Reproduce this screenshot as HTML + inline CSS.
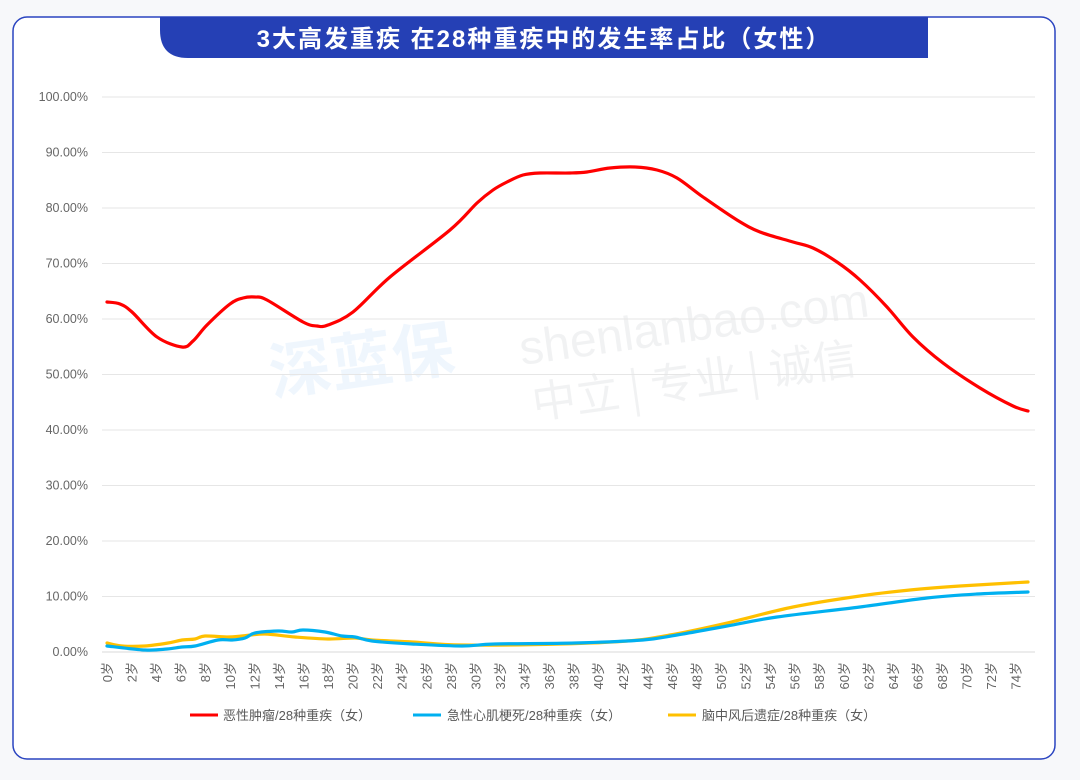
<!DOCTYPE html>
<html><head><meta charset="utf-8"><style>
html,body{margin:0;padding:0;background:#f7f8fa;}
body{width:1080px;height:780px;overflow:hidden;font-family:"Liberation Sans","Noto Sans CJK SC",sans-serif;}
</style></head><body>
<svg width="1080" height="780" xmlns="http://www.w3.org/2000/svg" style="position:absolute;left:0;top:0">
<rect x="13" y="17" width="1042" height="742" rx="14" fill="#fff" stroke="#2a44c0" stroke-width="1.5"/>
<path d="M160,17 H928 V58 H188 Q160,58 160,30 Z" fill="#2540b5"/>
<text x="544" y="47" text-anchor="middle" fill="#fff" font-size="24" font-weight="bold" letter-spacing="2" font-family="Liberation Sans,Noto Sans CJK SC,sans-serif">3大高发重疾 在28种重疾中的发生率占比（女性）</text>
<g opacity="0.07" transform="rotate(-8 380 370)">
<text x="270" y="380" font-size="62" font-weight="bold" fill="#2a8ff0" font-family="Noto Sans CJK SC,sans-serif">深蓝保</text>
</g>
<g fill="#9aa0a8" opacity="0.13" transform="rotate(-8 700 340)">
<text x="520" y="340" font-size="48" font-family="Liberation Sans,sans-serif">shenlanbao.com</text>
<text x="525" y="395" font-size="44" font-family="Noto Sans CJK SC,sans-serif">中立 | 专业 | 诚信</text>
</g>
<g stroke="#e6e6e6" stroke-width="1">
<line x1="102" x2="1035" y1="97" y2="97"/><line x1="102" x2="1035" y1="152.5" y2="152.5"/>
<line x1="102" x2="1035" y1="208" y2="208"/><line x1="102" x2="1035" y1="263.5" y2="263.5"/>
<line x1="102" x2="1035" y1="319" y2="319"/><line x1="102" x2="1035" y1="374.5" y2="374.5"/>
<line x1="102" x2="1035" y1="430" y2="430"/><line x1="102" x2="1035" y1="485.5" y2="485.5"/>
<line x1="102" x2="1035" y1="541" y2="541"/><line x1="102" x2="1035" y1="596.5" y2="596.5"/>
<line x1="102" x2="1035" y1="652" y2="652" stroke="#d9d9d9"/>
</g>
<g fill="#666" font-size="12.5" text-anchor="end" font-family="Liberation Sans,sans-serif">
<text x="88" y="101">100.00%</text><text x="88" y="156.5">90.00%</text><text x="88" y="212">80.00%</text>
<text x="88" y="267.5">70.00%</text><text x="88" y="323">60.00%</text><text x="88" y="378.5">50.00%</text>
<text x="88" y="434">40.00%</text><text x="88" y="489.5">30.00%</text><text x="88" y="545">20.00%</text>
<text x="88" y="600.5">10.00%</text><text x="88" y="656">0.00%</text>
</g>
<g id="xl" fill="#666" font-size="13" text-anchor="end" font-family="Liberation Sans,Noto Sans CJK SC,sans-serif"></g>
<g fill="none" stroke-width="3.2" stroke-linejoin="round" stroke-linecap="round">
<path id="py" stroke="#ffc000"/>
<path id="pb" stroke="#00b0f0"/>
<path id="pr" stroke="#ff0000"/>
</g>
<g font-size="13" fill="#595959" font-family="Liberation Sans,Noto Sans CJK SC,sans-serif">
<line x1="190" x2="218" y1="715" y2="715" stroke="#ff0000" stroke-width="3"/><text x="223" y="720">恶性肿瘤/28种重疾（女）</text>
<line x1="413" x2="441" y1="715" y2="715" stroke="#00b0f0" stroke-width="3"/><text x="447" y="720">急性心肌梗死/28种重疾（女）</text>
<line x1="668" x2="696" y1="715" y2="715" stroke="#ffc000" stroke-width="3"/><text x="702" y="720">脑中风后遗症/28种重疾（女）</text>
</g>
</svg>
<script>
var g=document.getElementById('xl'),s='';
for(var a=0;a<=74;a+=2){var x=107+a*12.28+5;s+='<text transform="translate('+x.toFixed(1)+',662) rotate(-90)">'+a+'岁</text>';}
g.innerHTML=s;
function sm(str){var p=str.trim().split(/\s+/).map(function(t){return t.split(',').map(Number)});
var d='M'+p[0][0]+','+p[0][1];
for(var i=0;i<p.length-1;i++){var p0=p[i-1]||p[i],p1=p[i],p2=p[i+1],p3=p[i+2]||p2;
d+=' C'+(p1[0]+(p2[0]-p0[0])/6).toFixed(1)+','+(p1[1]+(p2[1]-p0[1])/6).toFixed(1)+' '+(p2[0]-(p3[0]-p1[0])/6).toFixed(1)+','+(p2[1]-(p3[1]-p1[1])/6).toFixed(1)+' '+p2[0]+','+p2[1];}
return d;}
document.getElementById('py').setAttribute('d',sm("107,643 122,646 145,646 168,643 182,640 195,639 205,636 228,637 242,636 265,634 295,637 328,639 355,638 372,640 412,642 462,645 560,644 627,641 670,635 727,623 793,607 860,596 910,590 960,586 1028,582"));
document.getElementById('pb').setAttribute('d',sm("107,646 145,650 167,649 182,647 195,646 218,640 232,640 245,638 255,633 278,631 292,632 303,630 325,632 342,636 355,637 372,641 412,644 462,646 495,644 575,643 643,640 677,635 727,626 777,617 860,607 927,598 977,594 1028,592"));
document.getElementById('pr').setAttribute('d',sm("107,302 120,304 132,312 157,337 182,347 193,341 207,325 230,304 243,298 255,297 267,300 303,322 317,326 328,325 353,312 390,277 450,230 477,203 493,190 507,182 523,175 540,173 570,173 587,172 610,168 635,167 657,170 677,178 703,197 737,220 760,232 793,242 813,248 837,262 860,280 887,307 913,337 943,363 980,388 1013,406 1028,411"));
</script>
</body></html>
